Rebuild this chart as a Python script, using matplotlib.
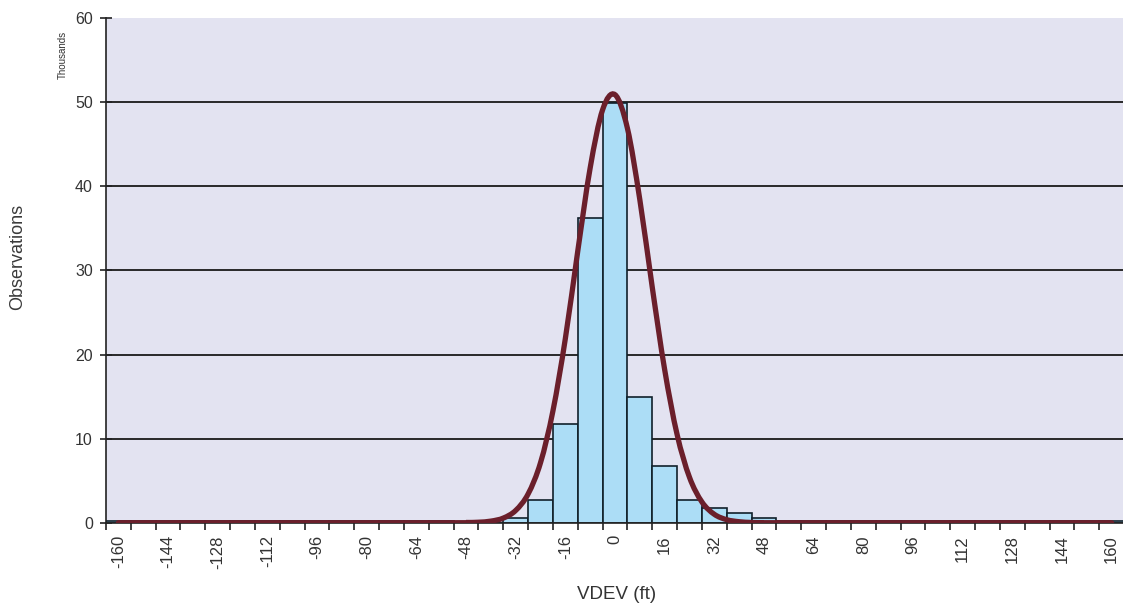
import numpy as np
import matplotlib.pyplot as plt
from matplotlib.path import Path
from matplotlib.patches import PathPatch

plt.rcParams['font.family'] = ['Liberation Sans', 'DejaVu Sans']

# Histogram bins (ft), 8 ft wide, centred on these values
bin_centers = list(range(-160, 161, 8))

# Observations per bin, in thousands
counts = ([0.15] * 14 +
          [0.0, 0.0, 0.6, 2.7, 11.7, 36.2, 49.9, 14.9, 6.7, 2.7, 1.76, 1.1, 0.6] +
          [0.15] * 14)

# Fitted normal curve (thousands)
curve_x = [-160, -52, -48, -44, -40, -36, -32, -28, -24, -20, -16, -12, -8, -4,
           0, 4, 8, 12, 16, 20, 24, 28, 32, 36, 40, 44, 48, 52, 160]
curve_y = [0.0, 0.0, 0.02, 0.06, 0.19, 0.55, 1.46, 3.42, 7.14, 13.3, 21.9, 32.3, 42.2, 49.1,
           50.9, 46.9, 38.4, 28.0, 18.2, 10.5, 5.4, 2.47, 1.0, 0.36, 0.12, 0.03, 0.01, 0.0, 0.0]

tick_values = list(range(-160, 161, 16))
tick_labels = [str(v) for v in tick_values]
y_ticks = [0, 10, 20, 30, 40, 50, 60]


# smooth line through the sampled points (Catmull-Rom as cubic Bezier, like Excel's smoothed line)
def smooth_path(xs, ys):
    pts = np.column_stack([xs, ys]).astype(float)
    ext = np.vstack([pts[0], pts, pts[-1]])
    verts = [pts[0]]
    codes = [Path.MOVETO]
    for i in range(1, len(ext) - 2):
        p0, p1, p2, p3 = ext[i - 1], ext[i], ext[i + 1], ext[i + 2]
        verts += [p1 + (p2 - p0) / 6, p2 - (p3 - p1) / 6, p2]
        codes += [Path.CURVE4] * 3
    return Path(verts, codes)


fig = plt.figure(figsize=(11.23, 6.05), dpi=100)
ax = fig.add_axes([0.0944, 0.136, 0.9065, 0.834])
ax.set_facecolor('#E3E3F1')

ax.set_xlim(-164, 164)
ax.set_ylim(0, 60)

for v in y_ticks[1:-1]:
    ax.axhline(v, color='#1a1a1a', lw=1.3, zorder=1)

ax.bar(bin_centers, counts, width=8, color='#ACDDF6', edgecolor='#10202a', lw=1.2, zorder=2)

ax.add_patch(PathPatch(smooth_path(curve_x, curve_y), facecolor='none',
                       edgecolor='#6B1F2B', lw=3.8, zorder=3, capstyle='round'))

# category boundaries get the tick marks, labels sit at bin centres
ax.set_xticks(np.arange(-164, 165, 8), minor=True)
ax.set_xticks(tick_values)
ax.set_xticklabels(tick_labels, rotation=90, fontsize=12, color='#333333',
                   family=['Liberation Sans Narrow', 'Liberation Sans'])
ax.tick_params(axis='x', which='major', length=0, pad=9)
ax.tick_params(axis='x', which='minor', length=5, width=1.2, direction='out', color='#222222')

ax.set_yticks(y_ticks)
ax.set_yticklabels([str(v) for v in y_ticks], fontsize=11.5, color='#333333')
ax.tick_params(axis='y', length=9, width=1.2, direction='inout', color='#222222', pad=5)

for side in ['top', 'right']:
    ax.spines[side].set_visible(False)
for side in ['left', 'bottom']:
    ax.spines[side].set_color('#222222')
    ax.spines[side].set_linewidth(1.2)

fig.text(0.016, 0.575, 'Observations', rotation=90, fontsize=13, color='#3a3a3a',
         ha='center', va='center')
fig.text(0.056, 0.91, 'Thousands', rotation=90, fontsize=7, color='#333333',
         ha='center', va='center')
fig.text(0.549, 0.018, 'VDEV (ft)', fontsize=13.5, color='#333333', ha='center', va='center')

fig.savefig('out.png', dpi=100)
